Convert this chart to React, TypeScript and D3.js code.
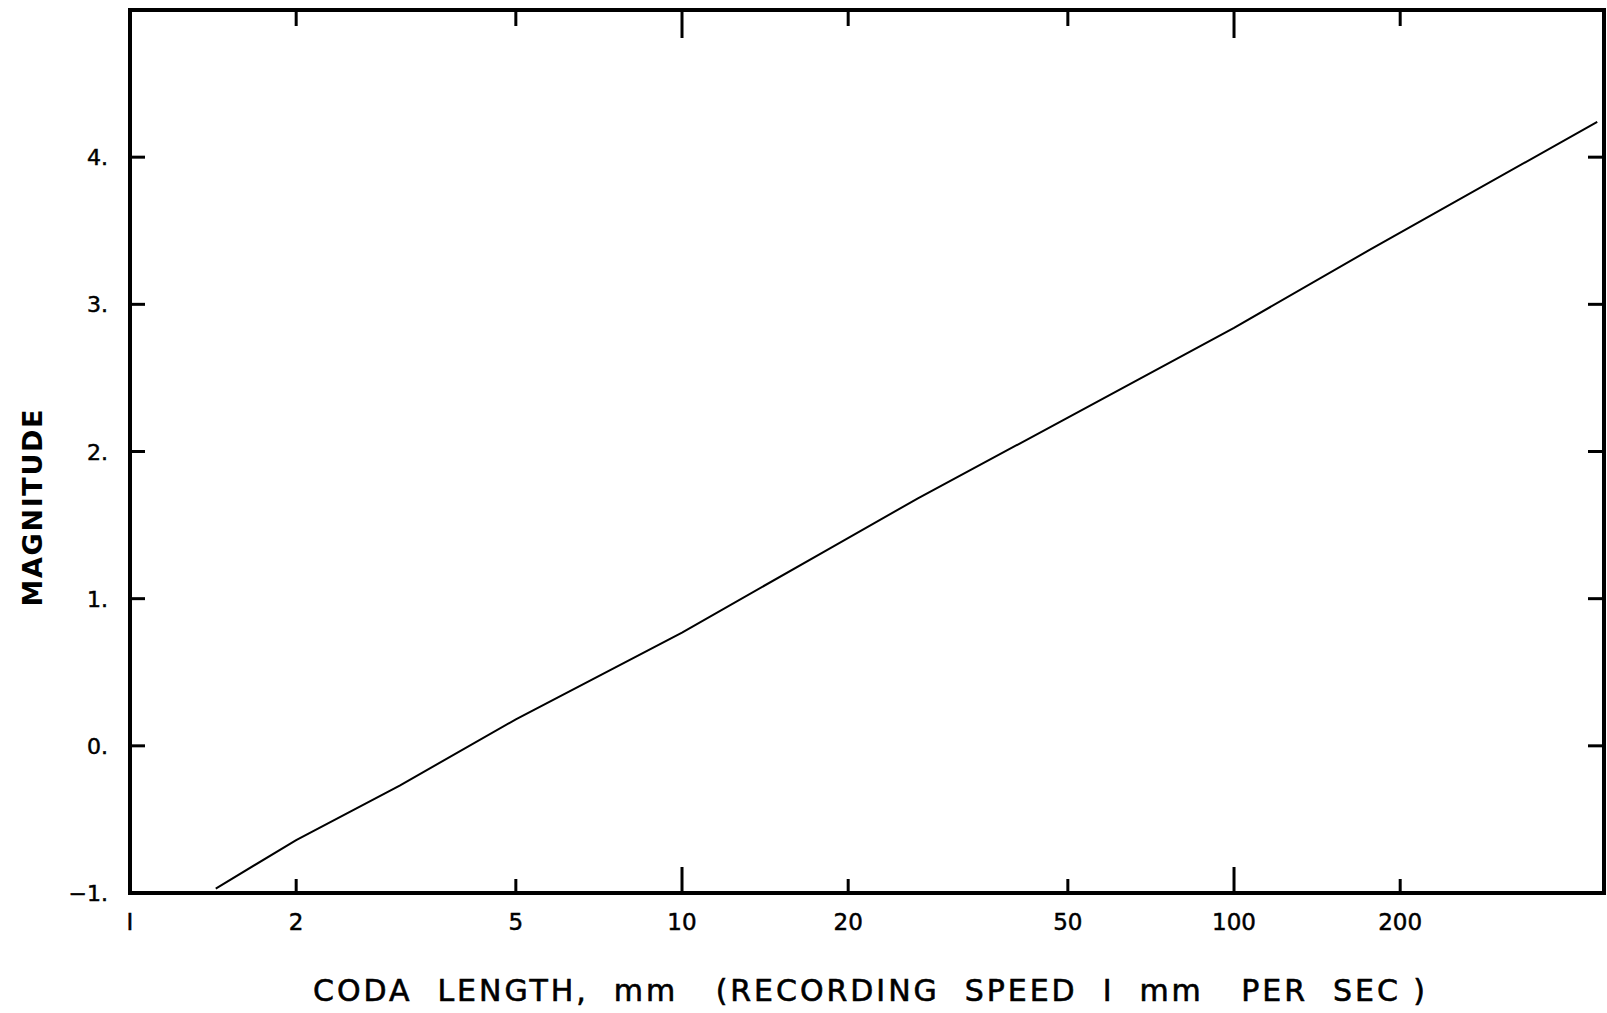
import React, { useEffect, useRef } from 'react';
import * as d3 from 'd3';

// coda length (mm) vs magnitude
const codaLength = [1.43, 2, 3.08, 5, 10, 18.3, 26.7, 50, 100, 176, 455];
const magnitude = [-0.97, -0.64, -0.27, 0.18, 0.77, 1.33, 1.68, 2.23, 2.84, 3.37, 4.24];

const xTicks = [2, 5, 10, 20, 50, 100, 200];
const xMajor = [10, 100];
const xLabels = [1, 2, 5, 10, 20, 50, 100, 200];
const yTicks = [-1, 0, 1, 2, 3, 4];
const yLabels = ['\u22121.', '0.', '1.', '2.', '3.', '4.'];

const xTitle = 'CODA  LENGTH,  mm   (RECORDING  SPEED  I  mm   PER  SEC )';
const yTitle = 'MAGNITUDE';

const W = 1607;
const H = 1013;

const App = () => {
  const ref = useRef<SVGSVGElement>(null);

  useEffect(() => {
    if (!ref.current) return;
    const svg = d3.select(ref.current);
    svg.selectAll('*').remove();

    const margin = { top: 10, right: 3, bottom: 120, left: 130 };
    const x = d3.scaleLog().domain([1, 468]).range([margin.left, W - margin.right]);
    const y = d3.scaleLinear().domain([-1, 5]).range([H - margin.bottom, margin.top]);
    const font = "'DejaVu Sans', 'Liberation Sans', sans-serif";

    const x0 = x.range()[0], x1 = x.range()[1];
    const y0 = y.range()[0], y1 = y.range()[1];

    const g = svg.append('g');

    // frame
    g.append('rect')
      .attr('x', x0).attr('y', y1)
      .attr('width', x1 - x0).attr('height', y0 - y1)
      .attr('fill', 'none').attr('stroke', '#000').attr('stroke-width', 4);

    // x ticks, bottom (inward) and top (inward)
    xTicks.forEach(t => {
      const len = xMajor.includes(t) ? 26 : 14;
      g.append('line')
        .attr('x1', x(t)).attr('x2', x(t))
        .attr('y1', y0).attr('y2', y0 - len)
        .attr('stroke', '#000').attr('stroke-width', 3);
      g.append('line')
        .attr('x1', x(t)).attr('x2', x(t))
        .attr('y1', y1).attr('y2', y1 + len + 2)
        .attr('stroke', '#000').attr('stroke-width', 3);
    });

    // y ticks, left and right (inward)
    yTicks.forEach(t => {
      g.append('line')
        .attr('x1', x0).attr('x2', x0 + 15)
        .attr('y1', y(t)).attr('y2', y(t))
        .attr('stroke', '#000').attr('stroke-width', 3);
      g.append('line')
        .attr('x1', x1).attr('x2', x1 - 16)
        .attr('y1', y(t)).attr('y2', y(t))
        .attr('stroke', '#000').attr('stroke-width', 3);
    });

    // x tick labels
    g.selectAll('.xl')
      .data(xLabels)
      .enter().append('text')
      .attr('x', d => x(d))
      .attr('y', 930)
      .attr('text-anchor', 'middle')
      .attr('font-family', font)
      .attr('font-size', 23)
      .attr('stroke', '#000').attr('stroke-width', 0.5)
      .text(d => (d === 1 ? 'I' : String(d)));

    // y tick labels
    g.selectAll('.yl')
      .data(yTicks)
      .enter().append('text')
      .attr('x', 108)
      .attr('y', d => y(d) + 8)
      .attr('text-anchor', 'end')
      .attr('font-family', font)
      .attr('font-size', 22)
      .attr('stroke', '#000').attr('stroke-width', 0.5)
      .text((d, i) => yLabels[i]);

    // line
    const line = d3.line<number>()
      .x((d, i) => x(codaLength[i]))
      .y(d => y(d));
    g.append('path')
      .datum(magnitude)
      .attr('d', line)
      .attr('fill', 'none')
      .attr('stroke', '#000')
      .attr('stroke-width', 2);

    // titles
    g.append('text')
      .attr('x', 313)
      .attr('y', 1001)
      .attr('font-family', font)
      .attr('font-size', 30)
      .attr('stroke', '#000').attr('stroke-width', 0.6)
      .attr('textLength', 1112)
      .attr('lengthAdjust', 'spacing')
      .style('white-space', 'pre')
      .text(xTitle);

    g.append('text')
      .attr('transform', `translate(42,508) rotate(-90)`)
      .attr('text-anchor', 'middle')
      .attr('font-family', font)
      .attr('font-size', 27)
      .attr('font-weight', 'bold')
      .attr('textLength', 197)
      .attr('lengthAdjust', 'spacing')
      .text(yTitle);
  }, []);

  return (
    <svg
      ref={ref}
      width={W}
      height={H}
      style={{ position: 'absolute', left: 0, top: 0, background: '#fff' }}
    />
  );
};

export default App;
